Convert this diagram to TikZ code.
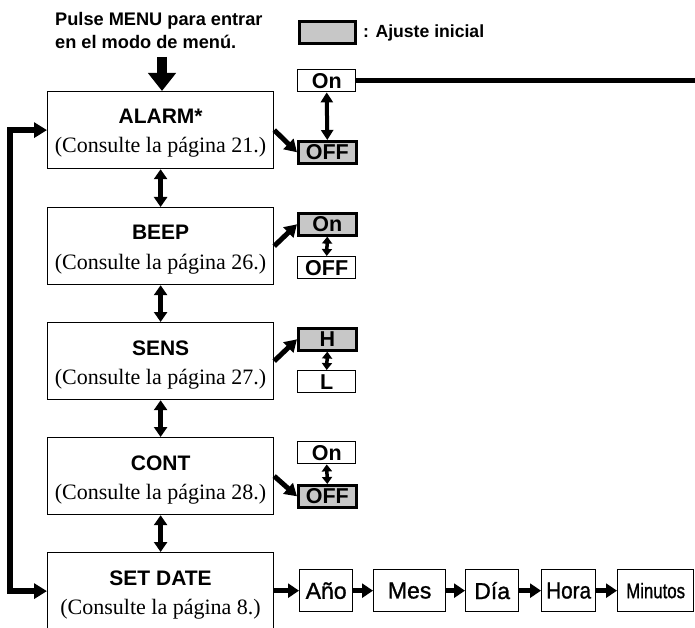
\documentclass[tikz,border=0pt]{standalone}
\usepackage{fontspec}
\setmainfont{Liberation Serif}
\setsansfont{Liberation Sans}
\newfontfamily\medsans[FakeBold=1.2]{Liberation Sans}
\usetikzlibrary{arrows.meta}
\definecolor{optgray}{gray}{0.78}
\begin{document}
\begin{tikzpicture}[x=1pt,y=-1pt,
  mainbox/.style={draw,line width=1.2pt,minimum width=226pt,minimum height=77pt,inner sep=0pt,anchor=north west},
  ttl/.style={font=\sffamily\bfseries\fontsize{21}{22}\selectfont,anchor=base,inner sep=0pt},
  sub/.style={font=\fontsize{22}{24}\selectfont,anchor=base,inner sep=0pt},
  intro/.style={font=\sffamily\bfseries\fontsize{18.2}{22}\selectfont,anchor=base west,inner sep=0pt},
  opt/.style={draw,line width=1.4pt,minimum width=58pt,minimum height=22pt,inner sep=0pt,anchor=north west,font=\sffamily\bfseries\fontsize{21.5}{22}\selectfont},
  optdef/.style={opt,fill=optgray,line width=2.6pt},
  rowbox/.style={draw,line width=1.3pt,minimum height=42pt,inner sep=0pt,anchor=north west,font=\medsans\fontsize{23}{26}\selectfont},
  bigdown/.style={line width=10pt,-{Triangle[width=27pt,length=18pt]}},
  vdbl/.style={line width=5pt,{Triangle[width=13pt,length=10pt]}-{Triangle[width=13pt,length=10pt]}},
  optdbl/.style={line width=4pt,{Triangle[width=12pt,length=10pt]}-{Triangle[width=12pt,length=10pt]}},
  optdbls/.style={line width=3.5pt,{Triangle[width=10pt,length=7pt]}-{Triangle[width=10pt,length=7pt]}},
  diag/.style={line width=5pt,-{Triangle[width=14pt,length=12pt]}},
  fb/.style={line width=6pt,miter limit=10,{Triangle[width=15pt,length=13pt]}-{Triangle[width=15pt,length=13pt]}},
  rowarr/.style={line width=5pt,-{Triangle[width=14pt,length=11pt]}},
  onlink/.style={line width=5pt}
]
\useasboundingbox (0,0) rectangle (695,628);
\clip (0,0) rectangle (695,628);

% intro text and legend
\node[intro] (intro1) at (55,26) {Pulse MENU para entrar};
\node[intro] (intro2) at (55,49) {en el modo de menú.};
\node[optdef,minimum width=56pt,minimum height=22pt] (legend) at (298,20) {};
\node[intro,font=\sffamily\bfseries\fontsize{17.6}{22}\selectfont] (legendtxt) at (363,38) {: Ajuste inicial};

% main boxes
\node[mainbox] (alarm) at (47,91) {};
\node[mainbox] (beep) at (47,207) {};
\node[mainbox] (sens) at (47,322) {};
\node[mainbox] (cont) at (47,437) {};
\node[mainbox] (setdate) at (47,552) {};

\node[ttl] (alarmT) at ([yshift=-33pt]alarm.north) {ALARM*};
\node[sub] (alarmS) at ([yshift=-62pt]alarm.north) {(Consulte la página 21.)};
\node[ttl] (beepT) at ([yshift=-33pt]beep.north) {BEEP};
\node[sub] (beepS) at ([yshift=-62pt]beep.north) {(Consulte la página 26.)};
\node[ttl] (sensT) at ([yshift=-33pt]sens.north) {SENS};
\node[sub] (sensS) at ([yshift=-62pt]sens.north) {(Consulte la página 27.)};
\node[ttl] (contT) at ([yshift=-33pt]cont.north) {CONT};
\node[sub] (contS) at ([yshift=-62pt]cont.north) {(Consulte la página 28.)};
\node[ttl] (setdateT) at ([yshift=-33pt]setdate.north) {SET DATE};
\node[sub] (setdateS) at ([yshift=-62pt]setdate.north) {(Consulte la página 8.)};

% options
\node[opt] (alarmOn) at (297,69) {On};
\node[optdef] (alarmOff) at (297,140) {OFF};
\node[optdef] (beepOn) at (297,212) {On};
\node[opt] (beepOff) at (297,256) {OFF};
\node[optdef] (sensH) at (297,327) {H};
\node[opt] (sensL) at (297,370) {L};
\node[opt] (contOn) at (297,441) {On};
\node[optdef] (contOff) at (297,484) {OFF};

% date row
\node[rowbox,minimum width=53pt] (ano) at (299,569) {Año};
\node[rowbox,minimum width=72pt] (mes) at (373,569) {Mes};
\node[rowbox,minimum width=53pt] (dia) at (465,569) {Día};
\node[rowbox,minimum width=54pt] (hora) at (541,569) {\scalebox{0.9}[1]{Hora}};
\node[rowbox,minimum width=76pt,font=\medsans\fontsize{21}{24}\selectfont] (minutos) at (617,569) {\scalebox{0.8}[1]{Minutos}};

% connectors
\coordinate (menuin) at (162,57);
\draw[bigdown] (menuin) -- (menuin |- alarm.north);

\draw[vdbl] (alarm.south) -- (beep.north);
\draw[vdbl] (beep.south) -- (sens.north);
\draw[vdbl] (sens.south) -- (cont.north);
\draw[vdbl] (cont.south) -- (setdate.north);

\coordinate (fbx) at (10,0);
\draw[fb] (setdate.west) -| (fbx |- alarm.west) -- (alarm.west);

\coordinate (onend) at (700,0);
\draw[onlink] (alarmOn.east) -- (alarmOn.east -| onend);

\draw[optdbl] (alarmOn.south) -- (alarmOff.north);
\draw[optdbls] (beepOn.south) -- (beepOff.north);
\draw[optdbls] (sensH.south) -- (sensL.north);
\draw[optdbls] (contOn.south) -- (contOff.north);

\draw[diag] (alarm.east) -- (alarmOff.west);
\draw[diag] (beep.east) -- (beepOn.west);
\draw[diag] (sens.east) -- (sensH.west);
\draw[diag] (cont.east) -- (contOff.west);

\draw[rowarr] (setdate.east |- ano.west) -- (ano.west);
\draw[rowarr] (ano.east) -- (mes.west);
\draw[rowarr] (mes.east) -- (dia.west);
\draw[rowarr] (dia.east) -- (hora.west);
\draw[rowarr] (hora.east) -- (minutos.west);
\end{tikzpicture}
\end{document}
